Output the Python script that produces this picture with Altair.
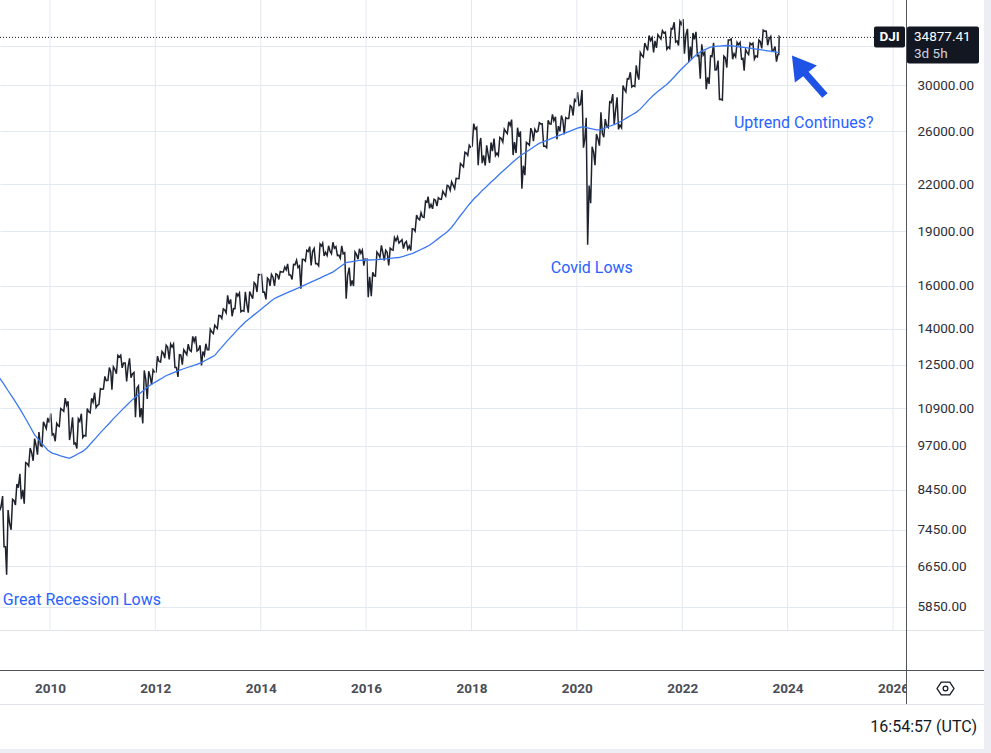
import altair as alt
import pandas as pd

# ---------------- data ----------------
start_year = 2009
# monthly DJI close / high / low, Jan 2009 .. Nov 2023 (Nov partial)
close = [
    8001, 7063, 7609, 8168, 8500, 8447, 9172, 9496, 9712, 9713, 10345, 10428,
    10067, 10325, 10857, 11009, 10137, 9774, 10466, 10015, 10788, 11118, 11006, 11578,
    11892, 12226, 12320, 12811, 12570, 12414, 12143, 11614, 10913, 11955, 12046, 12218,
    12633, 12952, 13212, 13214, 12393, 12880, 13009, 13091, 13437, 13096, 13026, 13104,
    13861, 14054, 14579, 14840, 15116, 14910, 15500, 14810, 15130, 15546, 16086, 16577,
    15699, 16322, 16458, 16581, 16717, 16827, 16563, 17098, 17043, 17391, 17828, 17823,
    17165, 18133, 17776, 17841, 18011, 17620, 17690, 16528, 16285, 17664, 17720, 17425,
    16466, 16517, 17685, 17774, 17787, 17930, 18432, 18401, 18308, 18142, 19124, 19763,
    19864, 20812, 20663, 20941, 21009, 21350, 21891, 21948, 22405, 23377, 24272, 24719,
    26149, 25029, 24103, 24163, 24416, 24271, 25415, 25965, 26458, 25116, 25538, 23327,
    24999, 25916, 25929, 26593, 24815, 26600, 26864, 26403, 26917, 27046, 28051, 28538,
    28256, 25409, 21917, 24346, 25383, 25813, 26428, 28430, 27782, 26502, 29638, 30606,
    29983, 30932, 32982, 33875, 34529, 34503, 34935, 35361, 33844, 35820, 34484, 36338,
    35132, 33893, 34678, 32977, 32990, 30775, 32845, 31510, 28726, 32733, 34590, 33147,
    34086, 32657, 33274, 34098, 32908, 34408, 35560, 34722, 33508, 33053, 34877.41,
]
high = [
    9034, 8280, 7925, 8200, 8600, 8880, 9200, 9630, 9917, 10120, 10450, 10580,
    10730, 10400, 10900, 11260, 11150, 10600, 10550, 10720, 10900, 11250, 11450, 11600,
    12050, 12390, 12420, 12875, 12880, 12570, 12750, 12200, 11700, 12280, 12250, 12300,
    12840, 13030, 13290, 13340, 13340, 12900, 13100, 13330, 13660, 13660, 13290, 13350,
    13970, 14150, 14590, 14890, 15540, 15340, 15660, 15650, 15710, 15720, 16170, 16590,
    16590, 16400, 16590, 16630, 16740, 16980, 17150, 17120, 17350, 17400, 17900, 18100,
    18000, 18250, 18290, 18150, 18350, 18100, 18140, 17760, 16950, 17800, 17980, 17900,
    17430, 16700, 17800, 18170, 17900, 18010, 18620, 18670, 18500, 18400, 19150, 19990,
    20130, 20880, 21170, 21000, 21100, 21530, 21930, 22180, 22420, 23490, 24330, 24880,
    26620, 26300, 25450, 24860, 25090, 25400, 25500, 26170, 26770, 26950, 26280, 25980,
    25100, 26240, 26150, 26700, 26600, 26900, 27400, 27200, 27300, 27130, 28170, 28700,
    29370, 29570, 27100, 24760, 25760, 27580, 27000, 28500, 29200, 28900, 30000, 30640,
    31270, 31960, 33260, 34260, 35090, 34850, 35170, 35630, 35460, 35890, 36570, 36680,
    36952, 35820, 35370, 35490, 34120, 33270, 32910, 34280, 32430, 32890, 34600, 34710,
    34340, 34340, 33570, 34250, 34260, 34590, 35680, 35580, 34980, 33900, 34960,
]
low = [
    7909, 7063, 6470, 7450, 8050, 8200, 8087, 9100, 9250, 9430, 9680, 10230,
    10030, 9835, 10300, 10800, 9870, 9750, 9615, 9950, 10000, 10750, 10930, 11040,
    11580, 11900, 11555, 12150, 12380, 11860, 12000, 10600, 10600, 10400, 11230, 11740,
    12220, 12600, 12760, 12710, 12390, 12035, 12500, 12900, 13030, 13050, 12470, 12880,
    13100, 13780, 14000, 14450, 14700, 14550, 14900, 14760, 14780, 14720, 15370, 15700,
    15690, 15340, 16000, 16000, 16330, 16720, 16560, 16330, 16950, 15860, 17300, 17070,
    17160, 17040, 17580, 17600, 17700, 17600, 17450, 15370, 16000, 16000, 17400, 17050,
    15450, 15500, 16500, 17500, 17330, 17060, 17900, 18300, 17990, 17960, 17880, 19000,
    19680, 19830, 20410, 20380, 20550, 20990, 21200, 21600, 21710, 22400, 23240, 24100,
    24800, 23360, 23510, 23340, 23530, 24080, 24080, 25120, 25800, 24120, 24270, 21710,
    22640, 24880, 25200, 25990, 24800, 24680, 26580, 25340, 25980, 25740, 27050, 27300,
    28170, 24680, 18214, 20740, 23360, 24840, 25500, 26300, 26540, 26140, 26270, 29400,
    29860, 29900, 30550, 32800, 33470, 33270, 33740, 34700, 33610, 33680, 34370, 34000,
    33150, 32270, 32580, 32920, 30640, 29650, 30150, 31500, 28720, 28660, 31730, 32570,
    32810, 32580, 31430, 33050, 32590, 32800, 33700, 34030, 33400, 32330, 33050,
]
# long moving average (blue), one value per month
ma = [
    12000, 11760, 11530, 11290, 11055, 10810, 10560, 10300, 10040, 9875, 9725, 9570,
    9475, 9436, 9397, 9358, 9320, 9385, 9455, 9525, 9635, 9790, 9940, 10095,
    10246, 10397, 10549, 10700, 10851, 11002, 11153, 11291, 11420, 11552, 11683, 11787,
    11884, 11980, 12077, 12146, 12212, 12278, 12344, 12402, 12457, 12514, 12584, 12678,
    12771, 12865, 13066, 13273, 13479, 13685, 13890, 14095, 14294, 14454, 14615, 14775,
    14940, 15106, 15273, 15417, 15513, 15608, 15703, 15798, 15891, 15991, 16093, 16195,
    16297, 16399, 16501, 16603, 16712, 16879, 17046, 17214, 17259, 17296, 17332, 17345,
    17357, 17369, 17381, 17398, 17422, 17446, 17470, 17494, 17562, 17636, 17711, 17824,
    17940, 18056, 18176, 18368, 18561, 18754, 18947, 19222, 19581, 19940, 20299, 20658,
    20997, 21284, 21571, 21858, 22146, 22433, 22724, 23016, 23302, 23594, 23886, 24137,
    24357, 24577, 24796, 25014, 25154, 25294, 25434, 25574, 25714, 25855, 25995, 26135,
    26275, 26360, 26274, 26189, 26103, 26108, 26254, 26400, 26542, 26688, 26899, 27124,
    27349, 27574, 27853, 28274, 28696, 29090, 29427, 29763, 30100, 30492, 30951, 31411,
    31852, 32274, 32696, 33118, 33407, 33620, 33832, 33919, 33946, 33974, 34002, 33957,
    33897, 33836, 33776, 33715, 33650, 33581, 33513, 33445, 33377, 33308, 33271,
]
prev_close_dec_2008 = 8776
last_price = 34877.41
y_ticks = [5850, 6650, 7450, 8450, 9700, 10900, 12500, 14000, 16000, 19000, 22000, 26000, 30000, 34000]
x_tick_years = list(range(2010, 2027, 2))

ann_text = ["Great Recession Lows", "Covid Lows", "Uptrend Continues?"]
ann_date = ["2010-08-10", "2020-04-14", "2024-04-22"]
ann_price = [5971, 16902, 26630]
arrow_date = ["2024-05-21"]
arrow_price = [30955]

# ---------------- tables ----------------
n = len(close)
rows, ma_rows = [], []
prev = prev_close_dec_2008
for k in range(n):
    yr, mo = start_year + k // 12, k % 12 + 1
    days = (6, 16, 26) if k < n - 1 else (1, 4, 8)
    first, second = (low[k], high[k]) if close[k] >= prev else (high[k], low[k])
    for d, v in zip(days, (first, second, close[k])):
        rows.append({"date": f"{yr}-{mo:02d}-{d:02d}", "price": v})
    ma_rows.append({"date": f"{yr}-{mo:02d}-{15 if k < n - 1 else 8:02d}", "price": ma[k]})
    prev = close[k]
price_df = pd.DataFrame(rows)
ma_df = pd.DataFrame(ma_rows)
grid_df = pd.DataFrame({"date": [f"{y}-01-01" for y in x_tick_years]})
ann_df = pd.DataFrame({"date": ann_date, "price": ann_price, "text": ann_text})
arrow_df = pd.DataFrame({"date": arrow_date, "price": arrow_price})
last_df = pd.DataFrame({"price": [last_price], "label": [f"{last_price:.2f}"]})
one = pd.DataFrame({"v": [0]})

# ---------------- style ----------------
FONT = "Roboto"
GRID = "#e3e9f0"
TEXT = "#2a2e39"
PRICE = "#1e222d"
MA = "#3b78f2"
BLUE = "#2962ff"
DARK = "#131722"

xscale = alt.Scale(type="utc",
                   domain=[alt.DateTime(year=2009, month=1, date=19, utc=True),
                           alt.DateTime(year=2026, month=4, date=1, utc=True)])
yscale = alt.Scale(type="log", domain=[4801, 39215], nice=False, zero=False)

xaxis = alt.Axis(values=[alt.DateTime(year=y, month=1, date=1, utc=True) for y in x_tick_years],
                 format="%Y", grid=False, domain=False, ticks=False, tickSize=0,
                 labelPadding=11, labelFont=FONT, labelFontSize=13.5, labelFontWeight="bold",
                 labelColor="#4a4d57", labelFlush=False, labelOverlap=False, title=None)
yaxis = alt.Axis(orient="right", values=y_ticks, grid=True, gridColor=GRID, gridWidth=1,
                 domain=False, ticks=False, tickSize=0, labelPadding=11,
                 labelAlign="left", labelBaseline="middle",
                 labelExpr="datum.value == 34000 ? '' : format(datum.value, '.2f')",
                 labelFont=FONT, labelFontSize=13.5, labelColor=TEXT,
                 labelOverlap=False, labelFlush=False, title=None)

X = lambda: alt.X("date:T", scale=xscale, axis=xaxis, title=None)
Y = lambda: alt.Y("price:Q", scale=yscale, axis=yaxis, title=None)

vgrid = alt.Chart(grid_df).mark_rule(color=GRID, strokeWidth=1).encode(
    x=X(), y=alt.value(0), y2=alt.value(630))

price_line = alt.Chart(price_df).mark_line(color=PRICE, strokeWidth=1.5, clip=True).encode(x=X(), y=Y())

ma_line = alt.Chart(ma_df).mark_line(color=MA, strokeWidth=1.3, clip=True).encode(x=X(), y=Y())

dotted = alt.Chart(last_df).mark_rule(color=DARK, strokeWidth=1, strokeDash=[1, 2]).encode(
    y=Y(), x=alt.value(0), x2=alt.value(874))

ann = alt.Chart(ann_df).mark_text(font=FONT, fontSize=16, color=BLUE, align="center",
                                  baseline="middle").encode(x=X(), y=Y(), text="text:N")

arrow_path = "M -0.8 -1 L 0.45 -0.5 L 0.035 -0.185 L 0.985 0.89 L 0.715 1.11 L -0.235 0.035 L -0.65 0.35 Z"
arrow = alt.Chart(arrow_df).mark_point(shape=arrow_path, filled=True, size=1600, color="#1e53e5",
                                       opacity=1, strokeWidth=0).encode(x=X(), y=Y())

# chrome (pane separators, price scale, time scale)
def hline(y, x2, color, w=1):
    return alt.Chart(one).mark_rule(color=color, strokeWidth=w).encode(
        x=alt.value(0), x2=alt.value(x2), y=alt.value(y))

sep630 = hline(630.5, 984, "#e0e3eb")
sep670 = hline(670.5, 984, "#50535e")
sep704 = hline(704.5, 984, "#e0e3eb")
vaxis = alt.Chart(one).mark_rule(color="#50535e", strokeWidth=1).encode(
    x=alt.value(906.5), y=alt.value(0), y2=alt.value(704))
axis_cover = alt.Chart(one).mark_rect(color="white").encode(
    x=alt.value(907), x2=alt.value(983), y=alt.value(671), y2=alt.value(704))
right_strip = alt.Chart(one).mark_rect(color="#eceef3").encode(
    x=alt.value(984), x2=alt.value(991), y=alt.value(0), y2=alt.value(753))
bottom_strip = alt.Chart(one).mark_rect(color="#eceef3").encode(
    x=alt.value(0), x2=alt.value(991), y=alt.value(749), y2=alt.value(753))

hexagon = "M -1 0 L -0.5 -0.75 L 0.5 -0.75 L 1 0 L 0.5 0.75 L -0.5 0.75 Z"
gear = alt.Chart(one).mark_point(shape=hexagon, filled=False, size=289, color=DARK,
                                 strokeWidth=1.3, opacity=1).encode(x=alt.value(945.5), y=alt.value(688.5))
gear_dot = alt.Chart(one).mark_point(shape="circle", filled=False, size=22, color=DARK,
                                     strokeWidth=1.3, opacity=1).encode(x=alt.value(945.5), y=alt.value(688.5))
clock = alt.Chart(one).mark_text(text="16:54:57 (UTC)", font=FONT, fontSize=16, color=DARK,
                                 align="right", baseline="middle").encode(x=alt.value(977), y=alt.value(727))

price_box = alt.Chart(last_df).mark_rect(color=DARK, cornerRadius=2, yOffset=-11, y2Offset=26).encode(
    y=Y(), y2="price:Q", x=alt.value(907), x2=alt.value(979))
price_txt = alt.Chart(last_df).mark_text(font=FONT, fontSize=13.5, color="white", align="left",
                                         baseline="middle").encode(y=Y(), x=alt.value(914), text="label:N")
count_txt = alt.Chart(last_df).mark_text(text="3d 5h", font=FONT, fontSize=13.5, color="#d1d4dc",
                                         align="left", baseline="middle", dy=17).encode(y=Y(), x=alt.value(914))
dji_box = alt.Chart(last_df).mark_rect(color=DARK, cornerRadius=2, yOffset=-11, y2Offset=10).encode(
    y=Y(), y2="price:Q", x=alt.value(874), x2=alt.value(905))
dji_txt = alt.Chart(last_df).mark_text(text="DJI", font=FONT, fontSize=13.5, fontWeight="bold",
                                       color="white", align="center", baseline="middle").encode(
    y=Y(), x=alt.value(889.5))

chart = alt.layer(
    price_line, vgrid, ma_line, dotted, ann, arrow,
    sep630, sep670, sep704, axis_cover, vaxis, right_strip, bottom_strip,
    gear, gear_dot, clock, price_box, price_txt, count_txt, dji_box, dji_txt,
).properties(
    width=906, height=670,
    padding={"left": 0, "top": 0, "right": 85, "bottom": 83},
    autosize=alt.AutoSizeParams(type="none"),
    background="white",
).configure_view(stroke=None)

chart.save("out.html", embed_options={"renderer": "svg", "actions": False})
